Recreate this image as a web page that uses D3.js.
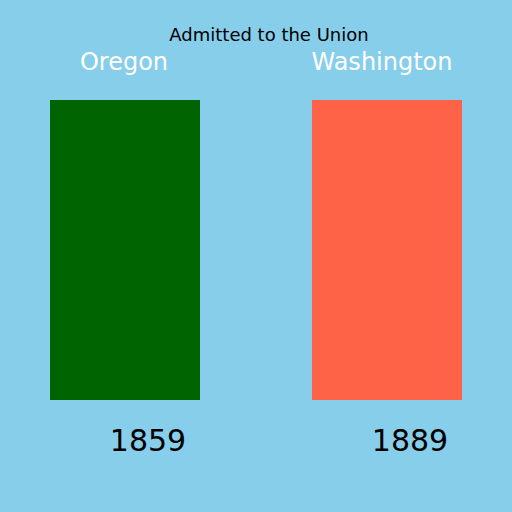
<!DOCTYPE html>
<html>
<head>
<meta charset="utf-8">
<script src="https://cdn.jsdelivr.net/npm/d3@7"></script>
<style>
html,body{margin:0;padding:0;background:#87CEEB;}
svg{display:block;}
</style>
</head>
<body>
<svg id="chart" width="512" height="512"></svg>
<script>
const states = ["Oregon", "Washington"];
const years = [1859, 1889];
const values = [1, 1];
const colors = ["#006400", "#FF6347"];
const title = "Admitted to the Union";

const svg = d3.select("#chart");
const font = "DejaVu Sans, sans-serif";

svg.append("rect").attr("width", 512).attr("height", 512).attr("fill", "#87CEEB");

const x = d3.scaleBand().domain(states).range([50, 462]).paddingInner(112 / 262).paddingOuter(0);
const y = d3.scaleLinear().domain([0, 1]).range([400, 100]);

svg.append("text")
  .attr("x", 269).attr("y", 41)
  .attr("text-anchor", "middle")
  .attr("font-family", font).attr("font-size", 18)
  .attr("fill", "#000")
  .text(title);

const g = svg.append("g");
g.selectAll("rect.bar").data(states).join("rect")
  .attr("class", "bar")
  .attr("x", d => x(d))
  .attr("width", x.bandwidth())
  .attr("y", (d, i) => y(values[i]))
  .attr("height", (d, i) => y(0) - y(values[i]))
  .attr("fill", (d, i) => colors[i]);

g.selectAll("text.name").data(states).join("text")
  .attr("class", "name")
  .attr("x", d => x(d) + x.bandwidth() / 2)
  .attr("dx", (d, i) => i === 0 ? -1 : -5)
  .attr("y", 70)
  .attr("text-anchor", "middle")
  .attr("font-family", font).attr("font-size", 24)
  .attr("fill", "#fff")
  .text(d => d);

g.selectAll("text.year").data(states).join("text")
  .attr("class", "year")
  .attr("x", d => x(d) + x.bandwidth() / 2 + 23)
  .attr("y", 451)
  .attr("text-anchor", "middle")
  .attr("font-family", font).attr("font-size", 30)
  .attr("fill", "#000")
  .text((d, i) => years[i]);
</script>
</body>
</html>
